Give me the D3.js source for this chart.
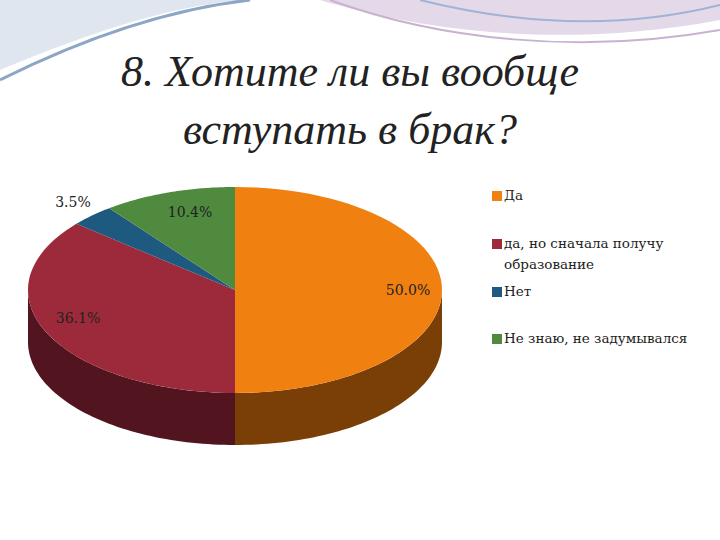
<!DOCTYPE html>
<html><head><meta charset="utf-8">
<script src="https://cdn.jsdelivr.net/npm/d3@7/dist/d3.min.js"></script>
<style>body{margin:0;background:#fff}</style></head>
<body><svg id="c" width="720" height="540"></svg>
<script>
const categories = ["Да", "да, но сначала получу образование", "Нет", "Не знаю, не задумывался"];
const legendLines = [["Да"], ["да, но сначала получу", "образование"], ["Нет"], ["Не знаю, не задумывался"]];
const values = [50.0, 36.1, 3.5, 10.4];
const labels = ["50.0%", "36.1%", "3.5%", "10.4%"];
const topColors = ["#F08010", "#9C2A3A", "#1E5A80", "#4F8A3E"];
const sideColors = ["#7A3F06", "#521520", "#0F2E42", "#284620"];
const TIMES = "'Liberation Serif', 'Times New Roman', serif";
const SERIF = "'DejaVu Serif', serif";

const svg = d3.select("#c");
const bg = svg.append("g");
bg.append("path").attr("d","M0,70 C120,20 200,0 260,0 L0,0Z").attr("fill","#dfe6ef");
bg.append("path").attr("d","M0,80 C100,30 180,8 250,0").attr("fill","none").attr("stroke","#8ea6c6").attr("stroke-width",3);
bg.append("path").attr("d","M320,0 C420,30 560,50 720,20 L720,0Z").attr("fill","#e4d9e8");
bg.append("path").attr("d","M330,0 C440,40 580,55 720,30").attr("fill","none").attr("stroke","#c9b2cf").attr("stroke-width",2);
bg.append("path").attr("d","M420,0 C520,25 620,30 720,5").attr("fill","none").attr("stroke","#9fb3d6").attr("stroke-width",2);

svg.append("text").attr("x",350).attr("y",86).attr("text-anchor","middle")
  .style("font-family",TIMES).attr("font-style","italic").attr("font-size",44).attr("fill","#222")
  .text("8. Хотите ли вы вообще");
svg.append("text").attr("x",350).attr("y",144).attr("text-anchor","middle")
  .style("font-family",TIMES).attr("font-style","italic").attr("font-size",44).attr("fill","#222")
  .text("вступать в брак?");

const cx=235, cy=290, rx=207, ry=103, depth=52;
const pie = d3.pie().sort(null).value(d=>d)(values);
const ang = d3.scaleLinear().domain([0,2*Math.PI]).range([0,2*Math.PI]);
const pt=(t,dy=0)=>[cx+rx*Math.sin(ang(t)), cy-ry*Math.cos(ang(t))+dy];
function arcPts(a,b,dy){const n=60,p=[];for(let i=0;i<=n;i++)p.push(pt(a+(b-a)*i/n,dy));return p;}
const g=svg.append("g");
pie.forEach((s,i)=>{
  const a=Math.max(s.startAngle,Math.PI/2), b=Math.min(s.endAngle,3*Math.PI/2);
  if(b<=a) return;
  const top=arcPts(a,b,0), bot=arcPts(a,b,depth).reverse();
  g.append("path").attr("d",d3.line()(top.concat(bot))+"Z").attr("fill",sideColors[i]);
});
pie.forEach((s,i)=>{
  const p=[[cx,cy]].concat(arcPts(s.startAngle,s.endAngle,0));
  g.append("path").attr("d",d3.line()(p)+"Z").attr("fill",topColors[i]);
});
const labPos=[[408,295],[78,323],[73,207],[190,217]];
labels.forEach((l,i)=>svg.append("text").attr("x",labPos[i][0]).attr("y",labPos[i][1]).attr("text-anchor","middle")
  .style("font-family",SERIF).attr("font-size",14).attr("fill","#222").text(l));

const legY=[195,243,291,338];
legendLines.forEach((ls,i)=>{
  svg.append("rect").attr("x",492).attr("y",legY[i]-4).attr("width",10).attr("height",10).attr("fill",topColors[i]);
  ls.forEach((t,j)=>svg.append("text").attr("x",504).attr("y",legY[i]+5+j*21)
    .style("font-family",SERIF).attr("font-size",13.5).attr("fill","#222").text(t));
});
</script></body></html>
